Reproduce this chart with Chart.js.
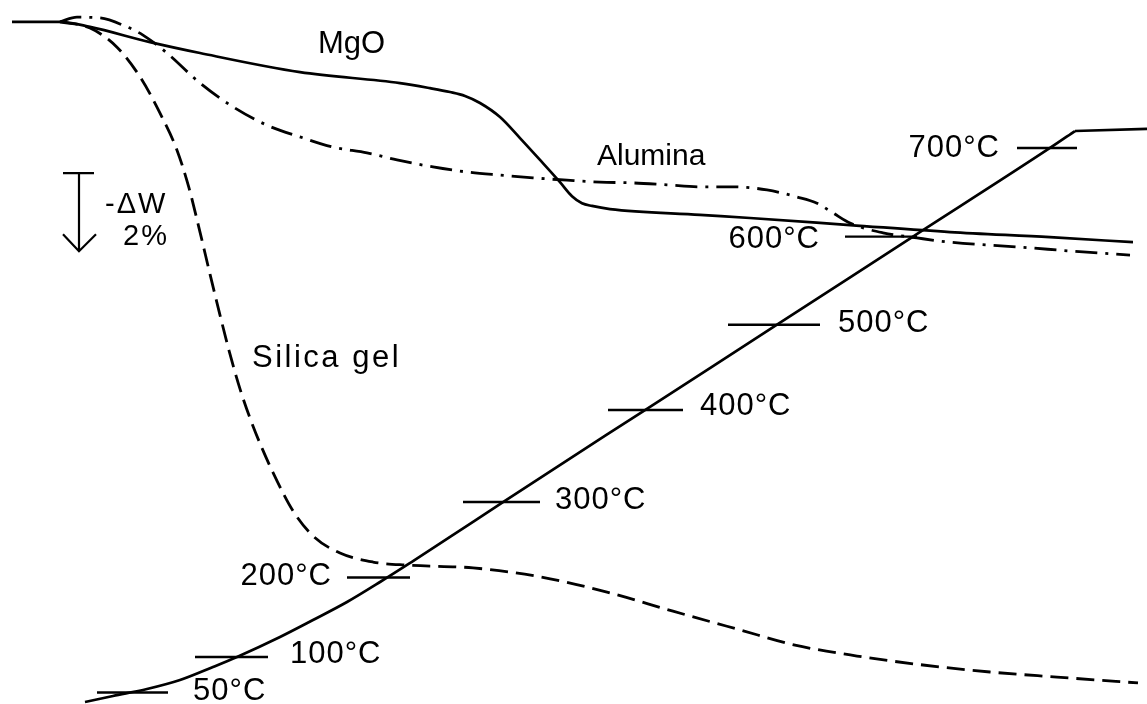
<!DOCTYPE html>
<html>
<head>
<meta charset="utf-8">
<script src="https://cdn.jsdelivr.net/npm/chart.js@4"></script>
<style>
  html, body { margin: 0; padding: 0; background: #fff; }
  #wrap { width: 1147px; height: 704px; position: relative; }
</style>
</head>
<body>
<div id="wrap"><canvas id="tgaChart"></canvas></div>
<script>
// time axis (arbitrary recorder units), weight loss -dW in %
const mgoTime = [1.2, 6.0, 9.0, 15.0, 20.0, 30.0, 40.0, 43.0, 45.0, 46.5, 48.0, 50.0, 52.0, 54.0, 56.0, 57.2, 58.2, 59.2, 61.0, 70.0, 75.0, 85.0, 95.0, 105.0, 113.3];
const mgoLoss = [0.06, 0.06, 0.19, 0.58, 0.86, 1.35, 1.63, 1.76, 1.86, 1.96, 2.14, 2.50, 3.04, 3.60, 4.17, 4.53, 4.71, 4.78, 4.86, 5.01, 5.09, 5.27, 5.45, 5.58, 5.71];

const aluminaTime = [6.0, 7.7, 10.0, 12.7, 14.3, 16.7, 20.0, 23.3, 26.7, 30.0, 33.3, 36.7, 39.7, 43.3, 46.7, 50.0, 53.3, 56.7, 60.0, 63.3, 66.7, 70.0, 73.3, 76.7, 79.7, 81.7, 83.3, 85.0, 88.3, 91.7, 95.0, 101.7, 108.3, 113.0];
const aluminaLoss = [0.06, -0.06, -0.04, 0.19, 0.40, 0.86, 1.63, 2.24, 2.71, 3.01, 3.27, 3.42, 3.60, 3.78, 3.91, 3.99, 4.06, 4.12, 4.17, 4.19, 4.24, 4.29, 4.29, 4.37, 4.55, 4.71, 4.96, 5.22, 5.47, 5.60, 5.71, 5.83, 5.96, 6.04];

const silicaTime = [6.0, 9.0, 11.7, 14.0, 16.0, 17.7, 18.9, 20.0, 21.0, 22.0, 23.0, 24.0, 25.0, 26.2, 27.7, 29.3, 31.3, 34.0, 37.3, 40.7, 47.3, 54.0, 60.7, 67.3, 74.0, 79.5, 85.7, 92.3, 99.0, 105.7, 113.8];
const silicaLoss = [0.06, 0.22, 0.71, 1.47, 2.40, 3.35, 4.32, 5.45, 6.53, 7.58, 8.58, 9.47, 10.22, 10.99, 11.83, 12.60, 13.24, 13.68, 13.91, 13.99, 14.06, 14.29, 14.68, 15.17, 15.65, 16.04, 16.32, 16.55, 16.73, 16.86, 17.01];

// temperature trace, recorder deflection (% of chart height); hold starts at 107.5
const traceTime = [8.5, 11.3, 14.7, 18.0, 21.3, 23.7, 28.0, 31.3, 34.7, 38.0, 41.3, 44.7, 50.3, 64.5, 77.7, 91.3, 105.0, 107.5, 114.7];
const traceValue = [0.28, 1.14, 2.13, 3.41, 5.26, 6.68, 9.52, 11.93, 14.49, 17.33, 20.31, 23.44, 28.69, 41.76, 53.88, 66.39, 78.98, 81.39, 81.68];
const holdStartTime = 107.5;

// temperatures marked on the trace and the times they were reached
const tempMarks = [50, 100, 200, 300, 400, 500, 600, 700];
const tempMarkTimes = [13.0, 23.7, 38.7, 50.3, 64.5, 77.7, 91.3, 105.0];

function toPoints(xs, ys) {
  return xs.map((x, i) => ({ x: x, y: ys[i] }));
}

const tracePoints = toPoints(traceTime, traceValue);
const heatingPoints = tracePoints.filter((p) => p.x <= holdStartTime);
const holdPoints = tracePoints.filter((p) => p.x >= holdStartTime);

function traceAt(t) {
  for (let i = 1; i < traceTime.length; i++) {
    if (t <= traceTime[i]) {
      const f = (t - traceTime[i - 1]) / (traceTime[i] - traceTime[i - 1]);
      return traceValue[i - 1] + f * (traceValue[i] - traceValue[i - 1]);
    }
  }
  return traceValue[traceValue.length - 1];
}

const FONT = '"Liberation Sans", Arial, sans-serif';

const tgaAnnotations = {
  id: "tgaAnnotations",
  afterDatasetsDraw(chart, args, opts) {
    const ctx = chart.ctx;
    const x = chart.scales.x;
    const y = chart.scales.y;
    const yT = chart.scales.yT;
    ctx.save();
    ctx.strokeStyle = "#000";
    ctx.fillStyle = "#000";
    ctx.lineWidth = 2.4;
    ctx.lineCap = "butt";

    // temperature marks on the trace
    tempMarks.forEach((T, i) => {
      const t = tempMarkTimes[i];
      const px = x.getPixelForValue(t);
      const py = yT.getPixelForValue(traceAt(t));
      const m = opts.marks[i];
      ctx.beginPath();
      ctx.moveTo(px - m.left, py);
      ctx.lineTo(px + m.right, py);
      ctx.stroke();
      ctx.font = "31px " + FONT;
      ctx.textBaseline = "middle";
      ctx.letterSpacing = "1px";
      const label = T + "°C";
      if (m.side === "right") {
        ctx.textAlign = "left";
        ctx.fillText(label, px + m.right + m.gap, py + m.dy);
      } else {
        ctx.textAlign = "right";
        ctx.fillText(label, px - m.left - m.gap, py + m.dy);
      }
    });

    // curve names
    ctx.textBaseline = "alphabetic";
    ctx.textAlign = "left";
    opts.texts.forEach((tx) => {
      ctx.font = tx.size + "px " + FONT;
      ctx.letterSpacing = tx.spacing + "px";
      ctx.fillText(tx.text, x.getPixelForValue(tx.t), y.getPixelForValue(tx.w));
    });

    // 2 % weight scale arrow
    const sb = opts.scaleBar;
    const ax = x.getPixelForValue(sb.t);
    const top = y.getPixelForValue(sb.w);
    const bottom = y.getPixelForValue(sb.w + sb.span);
    ctx.lineWidth = 2.2;
    ctx.beginPath();
    ctx.moveTo(ax - 16, top);
    ctx.lineTo(ax + 15, top);
    ctx.moveTo(ax, top);
    ctx.lineTo(ax, bottom);
    ctx.moveTo(ax - 16, bottom - 17);
    ctx.lineTo(ax, bottom);
    ctx.lineTo(ax + 17, bottom - 17);
    ctx.stroke();
    ctx.restore();
  },
};

const canvas = document.getElementById("tgaChart");
const ctx = canvas.getContext("2d");

const chartInstance = new Chart(ctx, {
  type: "line",
  data: {
    datasets: [
      {
        label: "MgO",
        data: toPoints(mgoTime, mgoLoss),
        borderColor: "#000",
        borderWidth: 2.7,
        cubicInterpolationMode: "monotone",
        yAxisID: "y",
      },
      {
        label: "Alumina",
        data: toPoints(aluminaTime, aluminaLoss),
        borderColor: "#000",
        borderWidth: 2.8,
        borderDash: [22, 8, 3, 8],
        cubicInterpolationMode: "monotone",
        yAxisID: "y",
      },
      {
        label: "Silica gel",
        data: toPoints(silicaTime, silicaLoss),
        borderColor: "#000",
        borderWidth: 2.8,
        borderDash: [18, 8],
        cubicInterpolationMode: "monotone",
        yAxisID: "y",
      },
      {
        label: "Temperature (heating)",
        data: heatingPoints,
        borderColor: "#000",
        borderWidth: 2.7,
        cubicInterpolationMode: "monotone",
        yAxisID: "yT",
      },
      {
        label: "Temperature (hold)",
        data: holdPoints,
        borderColor: "#000",
        borderWidth: 2.7,
        tension: 0,
        yAxisID: "yT",
      },
    ],
  },
  options: {
    responsive: true,
    maintainAspectRatio: false,
    animation: false,
    layout: { padding: 0 },
    elements: { point: { radius: 0 } },
    scales: {
      x: { type: "linear", min: 0, max: 114.7, display: false },
      y: { type: "linear", min: -0.5, max: 17.55, reverse: true, display: false },
      yT: { type: "linear", min: 0, max: 100, display: false },
    },
    plugins: {
      legend: { display: false },
      tooltip: { enabled: false },
      tgaAnnotations: {
        marks: [
          { left: 33, right: 38, side: "right", gap: 25, dy: -1 },
          { left: 42, right: 31, side: "right", gap: 22, dy: -3 },
          { left: 40, right: 23, side: "left", gap: 15, dy: -1 },
          { left: 40, right: 37, side: "right", gap: 15, dy: -2 },
          { left: 37, right: 38, side: "right", gap: 17, dy: -4 },
          { left: 49, right: 43, side: "right", gap: 18, dy: -1 },
          { left: 68, right: 4, side: "left", gap: 25, dy: 3 },
          { left: 33, right: 27, side: "left", gap: 17, dy: 0 },
        ],
        texts: [
          { text: "MgO", t: 31.8, w: 0.86, size: 31, spacing: 0 },
          { text: "Alumina", t: 59.7, w: 3.73, size: 30, spacing: 0 },
          { text: "Silica gel", t: 25.2, w: 8.91, size: 31, spacing: 2.5 },
          { text: "-ΔW", t: 10.5, w: 4.96, size: 29, spacing: 2 },
          { text: "2%", t: 12.3, w: 5.78, size: 29, spacing: 2 },
        ],
        scaleBar: { t: 7.9, w: 3.94, span: 2 },
      },
    },
  },
  plugins: [tgaAnnotations],
});
</script>
</body>
</html>
